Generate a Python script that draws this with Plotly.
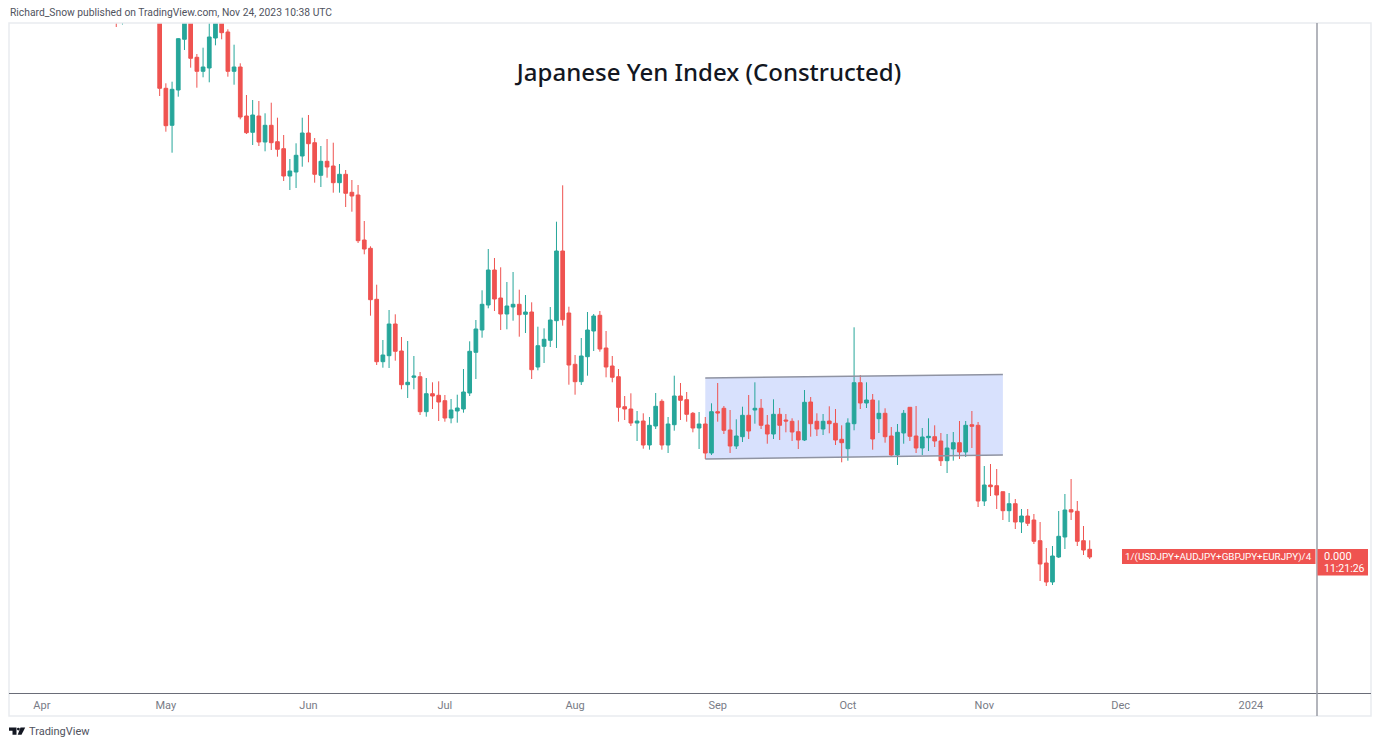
import pandas as pd
import plotly.graph_objects as go

# index level (no price scale is shown), one value per weekday from 19 Apr 2023
dates = pd.bdate_range("2023-04-19", "2023-11-24")

opens = [676, 672, None, None, None, None, None, 690,
    604.7, 567.7, 603, 653.7, 690, 635.7, 621.7, 625, 655, 675,
    661, 621.7, 626, 577, 560.7, 577, 551, 567.7, 551.3, 544.3,
    517, 521, 537, 560, 550.3, 517.7, 531.7, 527, 510.3, 518.7,
    500.7, 498, 453, 444.7, 393.7, 331.3, 337.3, 369, 342, 308.3,
    315.7, 316.3, 281.3, 299.3, 297.7, 292.3, 275, 282, 284, 300,
    340.7, 363, 388, 423, 395, 379, 386, 388.7, 378.7, 381,
    326, 346.7, 352.7, 372.3, 442, 380, 328.7, 311.3, 336.3, 362,
    377.7, 345, 327, 316.3, 286.3, 284, 270, 272, 248, 267,
    291.7, 248, 268.3, 297, 293.3, 279.7, 265, 269, 240, 281.3,
    284.7, 263, 247, 256.3, 277.7, 283, 284.7, 268, 259, 278.7,
    273, 271.7, 261.3, 253, 291, 271.7, 264, 272, 269.7, 253.7,
    244.3, 269.3, 310.3, 290, 293, 274.3, 279.7, 257, 238, 260,
    285.7, 257, 245, 255.3, 256.3, 252, 232.3, 244, 250.3, 241,
    268.3, 267.7, 192, 208, 207.3, 201.3, 182.3, 189.3, 171, 177,
    173, 152.3, 130, 111, 136, 156, 183.3, 181.7, 152.3, 143.7]

highs = [680, 684, None, None, None, None, None, 695,
    609.7, 611.3, 655, 700, 698, 639, 645.3, 672, 685, 680,
    663.7, 648.3, 629.7, 598, 593, 592, 579.7, 590.3, 575.3, 558,
    534, 549.7, 575.3, 578, 555, 547, 554, 550.3, 529, 523,
    513, 508, 472, 446.7, 408.3, 353, 383, 378.7, 356, 352,
    337, 321, 315, 310.7, 311.7, 298, 294, 298.3, 324, 351.7,
    373, 402.7, 444, 435, 425.7, 411, 421, 403.3, 398, 390.7,
    366.3, 364.7, 386, 471.3, 507.7, 386.3, 338, 355, 381, 379,
    382, 362, 337, 324, 297, 299.7, 282, 279.7, 276, 300,
    293.7, 276, 317.3, 310, 301, 281, 281, 276, 289.7, 310,
    287, 283, 273.7, 286.3, 298, 310.7, 294, 278, 293.7, 285,
    279, 274.7, 272.7, 303, 296, 279.7, 279, 286.7, 284, 267.7,
    274.7, 365.7, 318, 310.7, 299, 292.7, 284.7, 266, 269, 283,
    286, 287, 265, 274.7, 267.7, 260, 259, 261, 272, 272,
    282, 271, 227, 229, 224, 201.3, 200, 194, 184, 184,
    179, 171, 145, 147, 182, 199, 214, 192, 167, 152.7]

lows = [666, 668.5, None, None, None, None, None, 597,
    561.3, 540.3, 596.3, 643, 625.3, 605.3, 615.7, 610.7, 647.7, 653.7,
    616.3, 608.3, 573.7, 559, 548, 547, 541.7, 543, 536.3, 512,
    503, 505, 526.3, 530.7, 510.3, 506, 515.3, 500.3, 500.3, 486,
    481.3, 450, 438.7, 377.3, 328, 325.3, 325, 332.3, 303.7, 295,
    303.7, 278, 276.3, 284, 272, 271.3, 269.7, 270.3, 280.3, 297,
    314, 355.3, 384.7, 382, 363, 363.7, 372.3, 356.3, 360, 314,
    322.7, 330, 346, 345, 367.3, 308.3, 298.3, 308, 317.3, 342,
    341.3, 315.7, 310.7, 271.3, 273, 267, 252, 244.3, 243.3, 264,
    243.3, 240, 262.3, 273, 271.3, 260.7, 244, 234, 238, 271.3,
    259, 240, 244, 251, 254, 269.3, 264, 249.3, 254, 253,
    260.7, 252, 244, 252, 256.3, 257, 258, 259.7, 248, 230.7,
    232.3, 262.7, 284, 285, 243.3, 260, 250.3, 236, 228, 249.3,
    252, 240, 238, 242, 246, 227, 220, 232.3, 234, 236,
    245, 186, 187, 197, 184, 173, 171, 164, 160, 167,
    149, 112, 107, 108, 135, 144, 173, 147, 138, 134]

closes = [672, 678, None, None, None, None, None, 604.7,
    567.3, 603.7, 654.3, 690, 634.7, 621.7, 626, 656, 675, 660.3,
    621.7, 626, 576, 560.3, 578, 551, 567.7, 550.3, 543.7, 517,
    522, 537.7, 560, 549.3, 518.7, 531.7, 526, 510.3, 518.7, 499.7,
    497, 452.3, 444, 393.3, 331.3, 338, 369, 341.7, 308.3, 310.7,
    317, 281.3, 299.3, 297, 291, 275, 283, 285, 301, 341.7,
    364, 388.7, 423, 394, 379, 387, 388.7, 378.3, 381, 323.3,
    347.3, 353.7, 373, 442, 373.3, 328, 311.3, 337, 363, 377,
    344, 326, 315.7, 285.7, 284, 270, 272, 248, 267.7, 286.7,
    248, 269, 297, 292.7, 278.7, 265, 269, 240, 281.3, 280,
    262.7, 247, 257, 277.7, 262, 284.7, 267.7, 259, 278.7, 267.7,
    272, 261, 253, 290.7, 269.3, 264, 271.7, 269.3, 253, 250.3,
    270, 310.3, 290, 293, 254, 279.7, 256.3, 238, 260.7, 279.7,
    256.7, 245, 256, 256.7, 252, 232.3, 245, 250.3, 241, 267.7,
    266.7, 192, 208, 206.3, 198, 182.3, 189.3, 171, 177, 169.7,
    151.7, 129, 111, 137, 156.7, 183, 181, 151.7, 143, 136]

# month labels on the time axis
tick_dates = ["2023-04-03", "2023-05-01", "2023-06-01", "2023-07-03", "2023-08-01",
              "2023-09-01", "2023-10-02", "2023-11-01", "2023-12-01", "2024-01-01"]
tick_labels = ["Apr", "May", "Jun", "Jul", "Aug", "Sep", "Oct", "Nov", "Dec", "2024"]

# drawn channel: start and end date, upper and lower edge
channel_dates = ["2023-08-30", "2023-11-06"]
channel_upper = [315, 318.5]
channel_lower = [234, 238]

RED = "#ef5350"
GREEN = "#26a69a"
GREY = "#787b86"
FRAME = "#e9ebf0"

# plot area in page pixels
L, R, T, B = 9, 1316, 23, 693


def fx(x):
    return (x - L) / (R - L)


def fy(y):
    return (B - y) / (B - T)


def page_rect(x0, y0, x1, y1, fill=None, line=None, width=1):
    return dict(type="rect", xref="paper", yref="paper", x0=fx(x0), x1=fx(x1), y0=fy(y0), y1=fy(y1),
                fillcolor=fill or "rgba(0,0,0,0)", line=dict(color=line or "rgba(0,0,0,0)", width=width))


def page_line(x0, y0, x1, y1, color, width=1):
    return dict(type="line", xref="paper", yref="paper", x0=fx(x0), x1=fx(x1), y0=fy(y0), y1=fy(y1),
                line=dict(color=color, width=width))


def page_path(points, fill):
    d = "M " + " L ".join(f"{fx(x)},{fy(y)}" for x, y in points) + " Z"
    return dict(type="path", xref="paper", yref="paper", path=d, fillcolor=fill, line=dict(width=0))


def page_text(x, y, text, size, color, anchor="left", font="Roboto"):
    return dict(xref="paper", yref="paper", x=fx(x), y=fy(y), text=text, showarrow=False, xanchor=anchor,
                yanchor="middle", font=dict(size=size, color=color, family=font), borderpad=0)


fig = go.Figure()
fig.add_trace(go.Candlestick(
    x=dates, open=opens, high=highs, low=lows, close=closes,
    increasing=dict(line=dict(color=GREEN, width=1), fillcolor=GREEN),
    decreasing=dict(line=dict(color=RED, width=1), fillcolor=RED),
    whiskerwidth=0, hoverinfo="skip", showlegend=False,
))

channel_path = (f"M {channel_dates[0]},{channel_upper[0]} L {channel_dates[1]},{channel_upper[1]} "
                f"L {channel_dates[1]},{channel_lower[1]} L {channel_dates[0]},{channel_lower[0]} Z")

shapes = [
    dict(type="path", xref="x", yref="y", path=channel_path, fillcolor="#d8e1fd", line=dict(width=0), layer="below"),
    dict(type="line", xref="x", yref="y", x0=channel_dates[0], x1=channel_dates[1], y0=channel_upper[0],
         y1=channel_upper[1], line=dict(color="#8f93a2", width=1.5)),
    dict(type="line", xref="x", yref="y", x0=channel_dates[0], x1=channel_dates[1], y0=channel_lower[0],
         y1=channel_lower[1], line=dict(color="#8f93a2", width=1.5)),
    page_rect(9, 23, 1371, 716, line=FRAME, width=1.5),
    page_line(9, 693.5, 1371, 693.5, "#6a6d78"),
    page_line(1317, 23, 1317, 716, "#9a9da6", width=1.5),
    page_rect(1122, 549, 1315.5, 564, fill=RED),
    page_rect(1317.5, 549, 1368, 575.5, fill=RED),
    # TradingView mark
    page_path([(9, 727.5), (16.5, 727.5), (16.5, 734.7), (12.5, 734.7), (12.5, 730.7), (9, 730.7)], "#131722"),
    page_path([(20.5, 727.5), (25.2, 727.5), (21.5, 734.7), (17.7, 734.7)], "#131722"),
    dict(type="circle", xref="paper", yref="paper", x0=fx(17), x1=fx(19.8), y0=fy(730.5), y1=fy(727.7),
         fillcolor="#131722", line=dict(width=0)),
]

annotations = [
    page_text(9, 12, "Richard_Snow published on TradingView.com, Nov 24, 2023 10:38 UTC", 10.3, "#50535e"),
    page_text(1218.7, 556.5, "1/(USDJPY+AUDJPY+GBPJPY+EURJPY)/4", 9.8, "#ffffff", anchor="center"),
    page_text(1323, 556.5, "0.000", 11, "#ffffff"),
    page_text(1323, 568.5, "11:21:26", 10.5, "#ffffff"),
    page_text(28, 731.5, "TradingView", 11, "#50535e"),
]

fig.update_layout(
    width=1380, height=747,
    margin=dict(l=L, r=1380 - R, t=T, b=747 - B, autoexpand=False),
    paper_bgcolor="#ffffff", plot_bgcolor="#ffffff",
    boxgap=0.15,
    title=dict(text="Japanese Yen Index (Constructed)", x=709 / 1380, y=1 - 73 / 747,
               xanchor="center", yanchor="middle", xref="container", yref="container",
               font=dict(family="Noto Sans", size=24, weight=500, color="#131722")),
    shapes=shapes, annotations=annotations, showlegend=False,
    xaxis=dict(
        type="date", range=["2023-03-24 16:48", "2024-01-15 12:00"],
        rangebreaks=[dict(bounds=["sat", "mon"])], rangeslider=dict(visible=False),
        tickmode="array", tickvals=tick_dates, ticktext=tick_labels,
        tickfont=dict(family="Roboto", size=11, color=GREY),
        ticks="outside", ticklen=2, tickcolor="rgba(0,0,0,0)",
        showgrid=False, zeroline=False, showline=False,
    ),
    yaxis=dict(range=[0, 670], showticklabels=False, ticks="", showgrid=False, zeroline=False, showline=False),
)

fig.write_html("out.html", config=dict(displayModeBar=False),
               post_script="document.body.style.margin='0';")
